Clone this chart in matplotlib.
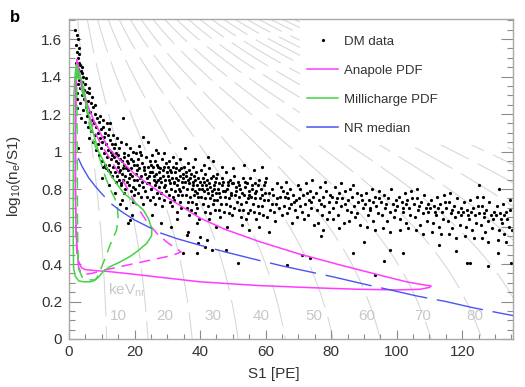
#!/usr/bin/env python3
"""Panel b: DM candidate events in log10(ne/S1) vs S1 with anapole / millicharge PDFs."""

import numpy as np
import matplotlib

matplotlib.use("Agg")
import matplotlib.pyplot as plt
from matplotlib.lines import Line2D
from matplotlib.patches import Rectangle
from matplotlib.ticker import MultipleLocator, FuncFormatter

plt.rcParams["font.family"] = ["Liberation Sans", "DejaVu Sans"]
plt.rcParams["mathtext.fontset"] = "custom"
plt.rcParams["mathtext.rm"] = "Liberation Sans"
plt.rcParams["mathtext.it"] = "Liberation Sans:italic"
plt.rcParams["lines.scale_dashes"] = False

# ---- data ---------------------------------------------------------------
# DM data events (S1 [PE], log10(ne/S1))
dm_low = [
    (1.9, 1.65), (2.4, 1.62), (2.6, 1.60), (2.2, 1.57), (2.9, 1.55), (2.5, 1.53), (3.1, 1.52), (2.7, 1.50),
    (2.0, 1.47), (3.3, 1.46), (2.8, 1.44), (3.6, 1.43), (2.3, 1.41), (3.9, 1.42), (4.4, 1.40), (3.2, 1.38),
    (4.1, 1.37), (2.6, 1.36), (5.0, 1.36), (3.5, 1.34), (4.7, 1.33), (2.4, 1.31), (5.4, 1.32), (3.9, 1.30),
    (6.1, 1.31), (4.5, 1.28), (2.5, 1.28), (5.8, 1.27), (3.3, 1.26), (6.6, 1.26), (5.1, 1.24), (2.4, 1.23),
    (7.2, 1.24), (4.2, 1.22), (6.3, 1.21), (5.5, 1.19), (7.8, 1.20), (3.6, 1.18), (6.9, 1.17), (8.4, 1.18),
    (4.8, 1.16), (7.5, 1.15), (9.1, 1.16), (5.9, 1.13), (8.2, 1.13), (9.7, 1.12), (6.7, 1.11), (10.3, 1.13),
    (7.9, 1.09), (8.8, 1.10), (11.0, 1.10), (6.2, 1.07), (9.4, 1.07), (10.6, 1.08), (11.8, 1.09), (7.4, 1.05),
    (8.9, 1.04), (10.1, 1.05), (12.4, 1.06), (11.3, 1.04), (2.8, 1.02), (9.9, 1.02), (13.1, 1.04), (8.3, 1.01),
    (11.9, 1.01), (10.8, 0.99), (12.7, 1.00), (13.8, 1.02), (9.3, 0.98), (14.4, 0.99), (11.5, 0.97), (12.9, 0.96),
    (10.2, 0.95), (13.6, 0.97), (15.1, 0.98), (14.2, 0.95), (11.1, 0.93), (12.3, 0.93), (15.7, 0.96), (13.4, 0.92),
    (16.3, 0.95), (14.9, 0.92), (12.0, 0.90), (16.8, 0.93), (15.5, 0.90), (13.9, 0.89), (17.4, 0.91), (16.1, 0.88),
    (14.6, 0.87), (18.0, 0.90), (17.0, 0.87), (15.3, 0.85), (18.6, 0.88), (16.6, 0.85), (19.2, 0.87), (17.8, 0.84),
    (19.7, 0.85), (18.3, 0.82), (16.0, 0.82), (19.5, 0.81), (12.2, 1.12), (13.5, 1.09), (14.8, 1.07), (16.5, 1.18),
    (15.9, 1.05), (17.3, 1.04), (18.5, 1.02), (19.4, 1.00), (17.9, 0.98), (18.9, 0.96), (16.9, 0.99), (15.2, 1.02),
    (14.0, 1.04), (19.9, 0.93), (18.1, 0.94), (16.4, 0.91), (17.6, 0.95), (19.0, 0.91), (15.0, 0.94), (13.2, 0.98),
    (11.6, 1.15), (9.6, 1.19), (8.0, 1.25), (7.0, 1.29), (10.5, 1.17), (12.6, 1.15), (6.0, 1.34), (5.2, 1.39),
    (4.0, 1.45), (3.0, 1.47), (13.0, 0.87), (14.3, 0.84), (15.8, 0.83), (17.2, 0.80), (18.8, 0.79), (19.8, 0.77),
    (16.7, 0.78), (12.5, 0.89), (11.4, 0.91), (10.4, 0.92), (18.6, 0.635), (18.0, 0.62), (19.1, 0.66), (15.6, 0.72),
    (17.5, 0.70), (19.4, 0.73), (10.2, 0.86), (12.1, 0.82), (14.1, 0.78), (16.2, 0.74),
    (15.4, 0.89), (16.8, 0.97), (18.2, 0.86), (19.6, 0.95),
]
dm_mid = [
    (20.3, 0.99), (21.1, 0.96), (21.8, 1.00), (22.6, 1.08), (24.0, 1.05), (20.7, 0.93), (22.2, 0.94), (23.5, 0.97),
    (24.6, 0.95), (21.4, 0.91), (22.9, 0.90), (24.2, 0.92), (20.4, 0.88), (21.9, 0.87), (23.1, 0.88), (24.8, 0.89),
    (20.9, 0.85), (22.4, 0.84), (23.8, 0.86), (21.5, 0.82), (22.7, 0.81), (24.4, 0.83), (20.2, 0.80), (23.3, 0.79),
    (24.9, 0.80), (21.2, 0.78), (22.0, 0.76), (23.9, 0.76), (22.5, 0.72), (24.7, 0.74),
    (25.2, 0.98), (26.1, 0.95), (27.3, 0.99), (28.4, 0.96), (29.5, 0.94), (25.6, 0.92), (26.8, 0.93), (27.9, 0.91),
    (29.1, 0.92), (25.4, 0.89), (26.5, 0.88), (27.6, 0.89), (28.7, 0.87), (29.8, 0.89), (25.9, 0.85), (27.1, 0.85),
    (28.2, 0.84), (29.3, 0.85), (26.3, 0.82), (27.5, 0.81), (28.9, 0.81), (25.1, 0.80), (26.9, 0.78), (28.1, 0.78),
    (29.6, 0.79), (25.7, 0.76), (27.4, 0.75), (29.0, 0.74), (26.2, 0.72), (28.5, 0.71),
    (30.4, 0.95), (31.6, 0.92), (32.8, 0.94), (34.1, 0.91), (30.9, 0.90), (32.2, 0.89), (33.5, 0.90), (34.7, 0.88),
    (30.2, 0.87), (31.3, 0.86), (32.6, 0.86), (33.9, 0.87), (34.4, 0.84), (30.7, 0.83), (31.9, 0.83), (33.1, 0.82),
    (34.9, 0.81), (31.0, 0.80), (32.4, 0.79), (33.7, 0.80), (30.5, 0.77), (31.8, 0.76), (33.3, 0.77), (34.6, 0.77),
    (32.0, 0.74), (33.8, 0.73), (30.8, 0.73), (34.2, 0.70), (31.5, 0.71), (32.9, 0.68),
    (35.4, 1.02), (35.2, 0.92), (36.5, 0.90), (37.7, 0.92), (38.9, 0.89), (35.8, 0.87), (37.0, 0.86), (38.3, 0.87),
    (39.5, 0.86), (35.5, 0.84), (36.7, 0.83), (37.9, 0.84), (39.2, 0.82), (36.1, 0.80), (37.4, 0.80), (38.6, 0.79),
    (39.8, 0.80), (35.7, 0.77), (36.9, 0.76), (38.1, 0.77), (39.4, 0.76), (36.3, 0.73), (37.6, 0.73), (38.8, 0.72),
    (35.9, 0.70), (37.2, 0.69), (39.0, 0.70), (36.6, 0.66), (38.4, 0.67), (39.7, 0.64),
    (40.3, 0.90), (41.5, 0.88), (42.7, 0.91), (43.9, 0.87), (40.8, 0.86), (42.1, 0.85), (43.3, 0.86), (44.6, 0.84),
    (40.5, 0.82), (41.8, 0.82), (43.0, 0.81), (44.2, 0.82), (41.1, 0.79), (42.4, 0.78), (43.6, 0.79), (44.9, 0.78),
    (40.2, 0.76), (41.6, 0.75), (42.9, 0.75), (44.4, 0.74), (40.9, 0.72), (42.3, 0.71), (43.8, 0.72), (41.4, 0.68),
    (43.1, 0.67), (44.7, 0.69), (42.6, 0.64),
    (45.3, 0.88), (46.6, 0.86), (47.9, 0.89), (49.2, 0.85), (45.8, 0.83), (47.1, 0.84), (48.5, 0.82), (49.7, 0.83),
    (45.5, 0.80), (46.9, 0.79), (48.2, 0.80), (49.5, 0.78), (46.2, 0.76), (47.6, 0.76), (48.9, 0.75), (45.1, 0.74),
    (46.4, 0.72), (47.8, 0.72), (49.1, 0.71), (45.7, 0.69), (47.3, 0.68), (48.7, 0.67), (46.0, 0.65), (49.8, 0.66),
    (50.4, 0.87), (51.7, 0.84), (53.0, 0.86), (54.3, 0.83), (50.9, 0.81), (52.2, 0.80), (53.6, 0.81), (54.8, 0.79),
    (50.6, 0.77), (52.0, 0.76), (53.3, 0.77), (54.6, 0.75), (51.2, 0.73), (52.6, 0.72), (53.9, 0.73), (50.3, 0.70),
    (51.8, 0.69), (53.2, 0.69), (54.5, 0.67), (52.4, 0.65), (54.1, 0.64),
    (55.3, 0.86), (56.7, 0.83), (58.1, 0.85), (59.4, 0.82), (55.8, 0.80), (57.2, 0.79), (58.6, 0.80), (59.9, 0.78),
    (55.5, 0.76), (56.9, 0.75), (58.3, 0.75), (59.6, 0.74), (56.2, 0.72), (57.6, 0.71), (59.0, 0.71), (55.1, 0.69),
    (56.5, 0.68), (58.0, 0.67), (59.3, 0.66), (57.0, 0.64),
]
dm_fill = [
    (20.8, 0.90), (21.6, 0.86), (22.1, 0.98), (23.0, 0.92), (23.7, 0.83), (24.3, 0.87), (25.0, 0.93), (25.8, 0.87),
    (26.6, 0.84), (27.2, 0.92), (27.8, 0.86), (28.6, 0.90), (29.2, 0.82), (30.1, 0.92), (30.6, 0.85), (31.2, 0.89),
    (32.0, 0.84), (32.7, 0.91), (33.4, 0.85), (34.0, 0.79), (34.8, 0.86), (35.6, 0.89), (36.4, 0.85), (37.1, 0.88),
    (37.8, 0.82), (38.5, 0.85), (39.1, 0.78), (39.9, 0.84), (40.6, 0.80), (41.3, 0.84), (42.0, 0.80), (42.8, 0.83),
    (43.5, 0.77), (44.3, 0.80), (45.0, 0.86), (45.9, 0.78), (46.7, 0.82), (47.5, 0.79), (48.4, 0.84), (49.3, 0.77),
    (50.0, 0.83), (51.0, 0.79), (51.9, 0.82), (52.9, 0.78), (53.8, 0.84), (54.9, 0.77), (55.9, 0.82), (56.8, 0.78),
    (57.8, 0.82), (58.9, 0.77), (59.8, 0.84),
    (36.2, 0.94), (38.5, 0.96), (41.2, 0.93), (44.0, 0.95), (46.8, 0.92), (50.1, 0.91), (53.5, 0.93), (56.4, 0.90),
    (58.8, 0.92), (42.5, 0.97), (48.3, 0.60), (52.8, 0.61), (57.9, 0.60), (39.0, 0.62), (33.0, 0.64), (21.5, 1.03),
    (26.5, 1.01), (29.0, 0.99), (31.8, 0.97), (34.0, 0.96),
]
dm_high = [
    (60.2, 0.86), (60.8, 0.74), (61.3, 0.69), (61.9, 0.80), (62.4, 0.77), (62.8, 0.63), (63.1, 0.72), (63.6, 0.83),
    (64.0, 0.70), (64.4, 0.76), (64.9, 0.66), (61.0, 0.78), (62.1, 0.72), (63.4, 0.75), (64.6, 0.81), (60.5, 0.65),
    (62.6, 0.68),
    (65.2, 0.79), (65.6, 0.71), (66.1, 0.84), (66.4, 0.67), (66.9, 0.75), (67.3, 0.80), (67.8, 0.72), (68.1, 0.62),
    (68.5, 0.77), (69.0, 0.69), (69.4, 0.74), (69.8, 0.82), (65.9, 0.76), (67.0, 0.70), (68.8, 0.73), (66.6, 0.78),
    (69.6, 0.65),
    (70.1, 0.75), (70.6, 0.80), (71.0, 0.68), (71.4, 0.77), (71.9, 0.72), (72.3, 0.83), (72.8, 0.66), (73.1, 0.74),
    (73.7, 0.79), (74.0, 0.70), (74.5, 0.76), (74.9, 0.61), (70.4, 0.71), (71.7, 0.64), (72.6, 0.78), (73.9, 0.73),
    (74.3, 0.85),
    (75.3, 0.78), (75.7, 0.69), (76.2, 0.74), (76.6, 0.81), (77.1, 0.66), (77.4, 0.76), (77.9, 0.71), (78.4, 0.79),
    (78.7, 0.64), (79.2, 0.73), (79.7, 0.77), (75.9, 0.62), (76.9, 0.72), (78.0, 0.84), (79.4, 0.68), (77.6, 0.58),
    (80.2, 0.76), (80.7, 0.70), (81.1, 0.81), (81.6, 0.73), (82.0, 0.66), (82.5, 0.78), (82.9, 0.71), (83.4, 0.75),
    (83.8, 0.62), (84.3, 0.79), (84.7, 0.69), (80.5, 0.64), (81.9, 0.75), (83.0, 0.83), (84.1, 0.72), (82.3, 0.59),
    (85.2, 0.74), (85.7, 0.80), (86.1, 0.68), (86.5, 0.76), (87.0, 0.71), (87.4, 0.65), (87.9, 0.78), (88.3, 0.73),
    (88.8, 0.61), (89.2, 0.77), (89.7, 0.70), (85.5, 0.63), (86.8, 0.82), (88.0, 0.67), (89.4, 0.74),
    (90.2, 0.72), (90.6, 0.78), (91.1, 0.66), (91.5, 0.74), (92.0, 0.69), (92.4, 0.80), (92.9, 0.63), (93.3, 0.76),
    (93.8, 0.71), (94.2, 0.67), (94.7, 0.75), (90.9, 0.60), (92.7, 0.73), (93.5, 0.58), (94.5, 0.79), (91.8, 0.70),
    (95.2, 0.73), (95.6, 0.66), (96.1, 0.77), (96.5, 0.70), (97.0, 0.63), (97.4, 0.75), (97.9, 0.68), (98.3, 0.80),
    (98.8, 0.72), (99.2, 0.65), (99.7, 0.74), (95.9, 0.59), (96.8, 0.72), (98.0, 0.57), (99.5, 0.69),
    (100.2, 0.71), (100.6, 0.76), (101.1, 0.64), (101.5, 0.73), (102.0, 0.68), (102.4, 0.78), (102.9, 0.62),
    (103.3, 0.74), (103.8, 0.70), (104.2, 0.66), (104.7, 0.75), (100.9, 0.58), (101.8, 0.70), (103.5, 0.59),
    (104.5, 0.79), (102.7, 0.72),
    (105.2, 0.72), (105.6, 0.65), (106.1, 0.75), (106.5, 0.69), (107.0, 0.61), (107.4, 0.73), (107.9, 0.67),
    (108.3, 0.77), (108.8, 0.70), (109.2, 0.63), (109.7, 0.72), (105.9, 0.58), (106.8, 0.71), (108.0, 0.56),
    (109.5, 0.68), (106.3, 0.80),
    (110.2, 0.70), (110.6, 0.74), (111.1, 0.62), (111.5, 0.71), (112.0, 0.66), (112.4, 0.76), (112.9, 0.60),
    (113.3, 0.72), (113.8, 0.68), (114.2, 0.64), (114.7, 0.73), (110.9, 0.57), (111.8, 0.68), (113.5, 0.56),
    (114.5, 0.77), (112.7, 0.70),
    (115.2, 0.70), (115.6, 0.63), (116.1, 0.73), (116.5, 0.67), (117.0, 0.59), (117.4, 0.71), (117.9, 0.65),
    (118.3, 0.75), (118.8, 0.68), (119.2, 0.61), (119.7, 0.70), (115.9, 0.56), (116.8, 0.69), (118.0, 0.54),
    (119.5, 0.66), (116.3, 0.78),
    (120.2, 0.68), (120.6, 0.73), (121.1, 0.60), (121.5, 0.69), (122.0, 0.64), (122.4, 0.74), (122.9, 0.58),
    (123.3, 0.70), (123.8, 0.66), (124.2, 0.62), (124.7, 0.71), (120.9, 0.55), (121.8, 0.66), (123.5, 0.54),
    (124.5, 0.76), (122.7, 0.68), (125.0, 0.82),
    (125.2, 0.67), (125.6, 0.61), (126.1, 0.71), (126.5, 0.65), (127.0, 0.57), (127.4, 0.69), (127.9, 0.63),
    (128.3, 0.73), (128.8, 0.66), (129.2, 0.59), (129.7, 0.68), (125.9, 0.54), (126.8, 0.67), (128.0, 0.52),
    (129.5, 0.64), (126.3, 0.76),
    (130.2, 0.66), (130.6, 0.71), (131.1, 0.58), (131.5, 0.67), (132.0, 0.62), (132.4, 0.72), (132.9, 0.56),
    (133.3, 0.68), (133.8, 0.64), (134.2, 0.60), (134.7, 0.69), (130.9, 0.53), (131.8, 0.64), (133.5, 0.52),
    (134.5, 0.74), (132.7, 0.66), (135.2, 0.58), (131.2, 0.80),
]
dm_outliers = [
    (36.3, 0.57), (35.9, 0.555), (34.9, 0.46), (39.0, 0.46), (39.4, 0.51), (41.5, 0.49), (43.6, 0.475),
    (40.0, 0.545), (42.0, 0.53), (51.6, 0.405), (48.0, 0.475), (66.5, 0.395), (86.8, 0.46), (93.4, 0.34),
    (96.0, 0.415), (98.0, 0.475), (102.0, 0.46), (121.4, 0.405), (122.4, 0.405), (128.0, 0.39), (131.0, 0.46),
    (135.0, 0.405), (71.0, 0.45), (73.6, 0.43), (45.0, 0.60), (55.0, 0.58), (61.0, 0.57), (77.0, 0.55),
    (90.0, 0.52), (113.0, 0.50), (118.0, 0.47), (25.2, 0.66), (28.0, 0.62), (31.0, 0.60),
]

# Anapole PDF contours (outer solid, inner dashed)
anapole_outer = [
    (2.5, 1.49), (3.2, 1.42), (4.0, 1.35), (5.0, 1.28), (6.5, 1.21), (8.0, 1.15), (9.5, 1.10), (12.0, 1.02),
    (15.6, 0.955), (20.0, 0.88), (24.7, 0.82), (30.0, 0.755), (35.0, 0.70), (40.0, 0.645), (47.6, 0.585),
    (58.0, 0.52), (70.0, 0.455), (82.7, 0.395), (95.0, 0.34), (103.0, 0.305), (108.5, 0.288), (110.5, 0.283),
    (110.0, 0.275), (107.0, 0.265), (100.0, 0.262), (89.0, 0.265), (75.0, 0.273), (58.0, 0.285), (40.0, 0.305),
    (30.0, 0.325), (20.0, 0.345), (12.0, 0.36), (8.0, 0.365), (5.0, 0.37), (3.8, 0.38), (2.8, 0.42), (2.2, 0.55),
    (1.9, 0.80), (1.9, 1.10), (2.0, 1.30), (2.2, 1.45), (2.5, 1.49),
]
anapole_inner = [
    (2.5, 1.47), (4.0, 1.33), (6.0, 1.20), (8.0, 1.10), (10.0, 1.03), (13.0, 0.95), (16.0, 0.86), (18.5, 0.78),
    (21.0, 0.70), (24.0, 0.62), (27.0, 0.56), (30.0, 0.515), (32.5, 0.485), (34.2, 0.465), (33.0, 0.455),
    (30.0, 0.44), (26.0, 0.425), (22.0, 0.41), (18.0, 0.395), (14.0, 0.38), (10.0, 0.365), (7.0, 0.35),
    (5.0, 0.345), (3.8, 0.35), (3.0, 0.38), (2.4, 0.45), (2.1, 0.60), (2.0, 0.90), (2.1, 1.20), (2.3, 1.40),
    (2.5, 1.47),
]
# Millicharge PDF contours
milli_outer = [
    (2.3, 1.46), (3.0, 1.42), (3.8, 1.38), (4.4, 1.34), (5.5, 1.24), (6.5, 1.16), (7.4, 1.10), (9.0, 1.00),
    (10.5, 0.95), (12.5, 0.88), (14.5, 0.83), (16.6, 0.78), (19.0, 0.745), (21.0, 0.715), (22.7, 0.688),
    (24.3, 0.64), (25.3, 0.585), (25.2, 0.55), (23.7, 0.51), (21.0, 0.47), (18.6, 0.44), (15.5, 0.41),
    (12.5, 0.386), (10.5, 0.36), (9.0, 0.33), (7.5, 0.31), (6.4, 0.305), (4.5, 0.305), (3.0, 0.31),
    (1.9, 0.335), (1.4, 0.38), (1.3, 0.50), (1.3, 0.80), (1.35, 1.10), (1.5, 1.30), (1.9, 1.42), (2.3, 1.46),
]
milli_inner = [
    (2.3, 1.44), (3.5, 1.35), (4.9, 1.27), (6.0, 1.16), (7.4, 1.06), (9.5, 0.955), (11.0, 0.87), (12.5, 0.80),
    (14.0, 0.75), (14.8, 0.70), (15.0, 0.64), (14.5, 0.58), (13.5, 0.54), (12.5, 0.50), (11.0, 0.43),
    (10.0, 0.386), (9.0, 0.34), (8.0, 0.315), (6.0, 0.315), (4.0, 0.33), (2.8, 0.38), (2.6, 0.60),
    (2.5, 1.00), (2.4, 1.30), (2.3, 1.44),
]
# NR median
nr_s1 = [2.8, 4, 6, 8, 10, 13, 16, 20, 24, 28, 33, 40, 48, 56, 65, 73, 81, 90, 98, 106, 115, 123, 131, 135.5]
nr_y = [0.965, 0.92, 0.86, 0.815, 0.775, 0.72, 0.68, 0.635, 0.60, 0.565, 0.535, 0.50, 0.463, 0.428,
        0.39, 0.36, 0.33, 0.293, 0.262, 0.23, 0.20, 0.168, 0.14, 0.125]

# constant-energy guide lines: S1 where each keVnr line meets log10(ne/S1) = 0
contour_s1_at_zero = [11.5, 24.1, 37.6, 51.6, 66.0, 80.6, 95.0, 110.5, 126.0, 141.5, 157.0, 172.5, 188.0,
                      203.5, 219.0, 234.5, 250.0, 265.5, 281.0, 296.5, 312.0, 327.5, 343.0, 358.5, 374.0,
                      389.5, 405.0, 420.5, 436.0, 451.5, 467.0, 482.5, 498.0, 513.5, 529.0, 544.5, 560.0,
                      575.5, 591.0, 606.5]
energy_labels = ["10", "20", "30", "40", "50", "60", "70", "80"]
energy_label_s1 = [15.0, 29.3, 44.0, 58.6, 74.8, 91.0, 107.8, 124.0]

MAGENTA = "#ff3cff"
GREEN = "#44d444"
BLUE = "#4a55f0"
GREY_LINE = "#d6d6d6"
TEXT = "#333333"


def xy(points):
    arr = np.array(points)
    return arr[:, 0], arr[:, 1]


fig = plt.figure(figsize=(5.25, 3.87), dpi=100)
ax = fig.add_axes([69 / 525, 1 - 339 / 387, 444 / 525, 320 / 387])
ax.set_xlim(0, 135.5)
ax.set_ylim(0, 1.707)

# guide lines of constant recoil energy
a_q = 14.0
y_grid = np.linspace(1.75, 0.0, 90)
for s0 in contour_s1_at_zero:
    s1 = s0 * (a_q + 1) / (a_q + 10 ** y_grid)
    ax.plot(s1, y_grid, color=GREY_LINE, lw=0.75, ls=(0, (31, 7)), zorder=1)
for lab, s in zip(energy_labels, energy_label_s1):
    ax.text(s, 0.123, lab, color="#c8c8c8", fontsize=11, ha="center", va="center", zorder=1)
ax.text(11.8, 0.262, r"keV$_{\mathrm{nr}}$", color="#c8c8c8", fontsize=11, ha="left", va="center", zorder=1)

# white area behind the legend
ax.add_patch(Rectangle((0.52, 0.606), 0.48, 0.394, transform=ax.transAxes,
                       facecolor="white", edgecolor="none", zorder=1.5))

# data
dm = dm_low + dm_mid + dm_fill + dm_high + dm_outliers
ds, dy = xy(dm)
ax.plot(ds, dy, ls="none", marker="o", ms=2.3, color="black", mec="none", zorder=2)

ax.plot(*xy(anapole_outer), color=MAGENTA, lw=1.1, zorder=3)
ax.plot(*xy(anapole_inner), color=MAGENTA, lw=1.1, ls=(0, (8, 5)), zorder=3)
ax.plot(*xy(milli_outer), color=GREEN, lw=1.1, zorder=3)
ax.plot(*xy(milli_inner), color=GREEN, lw=1.1, ls=(0, (8, 5)), zorder=3)
ax.plot(nr_s1, nr_y, color=BLUE, lw=1.0, ls=(0, (34, 7)), zorder=3)

# axes styling (ROOT-like)
ax.xaxis.set_major_locator(MultipleLocator(20))
ax.xaxis.set_minor_locator(MultipleLocator(5))
ax.yaxis.set_major_locator(MultipleLocator(0.2))
ax.yaxis.set_minor_locator(MultipleLocator(0.05))
ax.yaxis.set_major_formatter(FuncFormatter(lambda v, _: f"{v:g}"))
ax.xaxis.set_major_formatter(FuncFormatter(lambda v, _: f"{v:g}"))
ax.tick_params(axis="both", which="both", direction="in", color="#8c8c8c", labelcolor=TEXT, labelsize=11)
ax.tick_params(axis="y", which="major", length=8.5, width=0.8, right=True, pad=5)
ax.tick_params(axis="y", which="minor", length=4.3, width=0.8, right=True)
ax.tick_params(axis="x", which="major", length=6.5, width=0.8, top=False, pad=4)
ax.tick_params(axis="x", which="minor", length=3.5, width=0.8, top=False)
for sp in ax.spines.values():
    sp.set_color("#a8a8a8")
    sp.set_linewidth(1.0)

fig.text(274 / 525, 1 - 374 / 387, "S1 [PE]", ha="center", va="center", fontsize=11, color=TEXT)
fig.text(14 / 525, 1 - 176 / 387, r"log$_{\mathrm{10}}$(n$_{\mathrm{e}}$/S1)", rotation=90,
         ha="center", va="center", fontsize=11, color=TEXT)
fig.text(10 / 525, 1 - 18 / 387, "b", ha="left", va="center", fontsize=12, fontweight="bold")

handles = [
    Line2D([], [], ls="none", marker="o", ms=2.3, color="black", mec="none"),
    Line2D([], [], color=MAGENTA, lw=1.1),
    Line2D([], [], color=GREEN, lw=1.1),
    Line2D([], [], color=BLUE, lw=1.1),
]
labels = ["DM data", "Anapole PDF", "Millicharge PDF", "NR median"]
leg = ax.legend(handles, labels, loc="upper left", bbox_to_anchor=(301.4 / 525, 1 - 30 / 387),
                bbox_transform=fig.transFigure, frameon=False, fontsize=9.5, handlelength=2.4,
                handletextpad=0.43, labelspacing=1.28, borderpad=0.4, borderaxespad=0)
for t in leg.get_texts():
    t.set_color(TEXT)

fig.savefig("out.png", dpi=100)
